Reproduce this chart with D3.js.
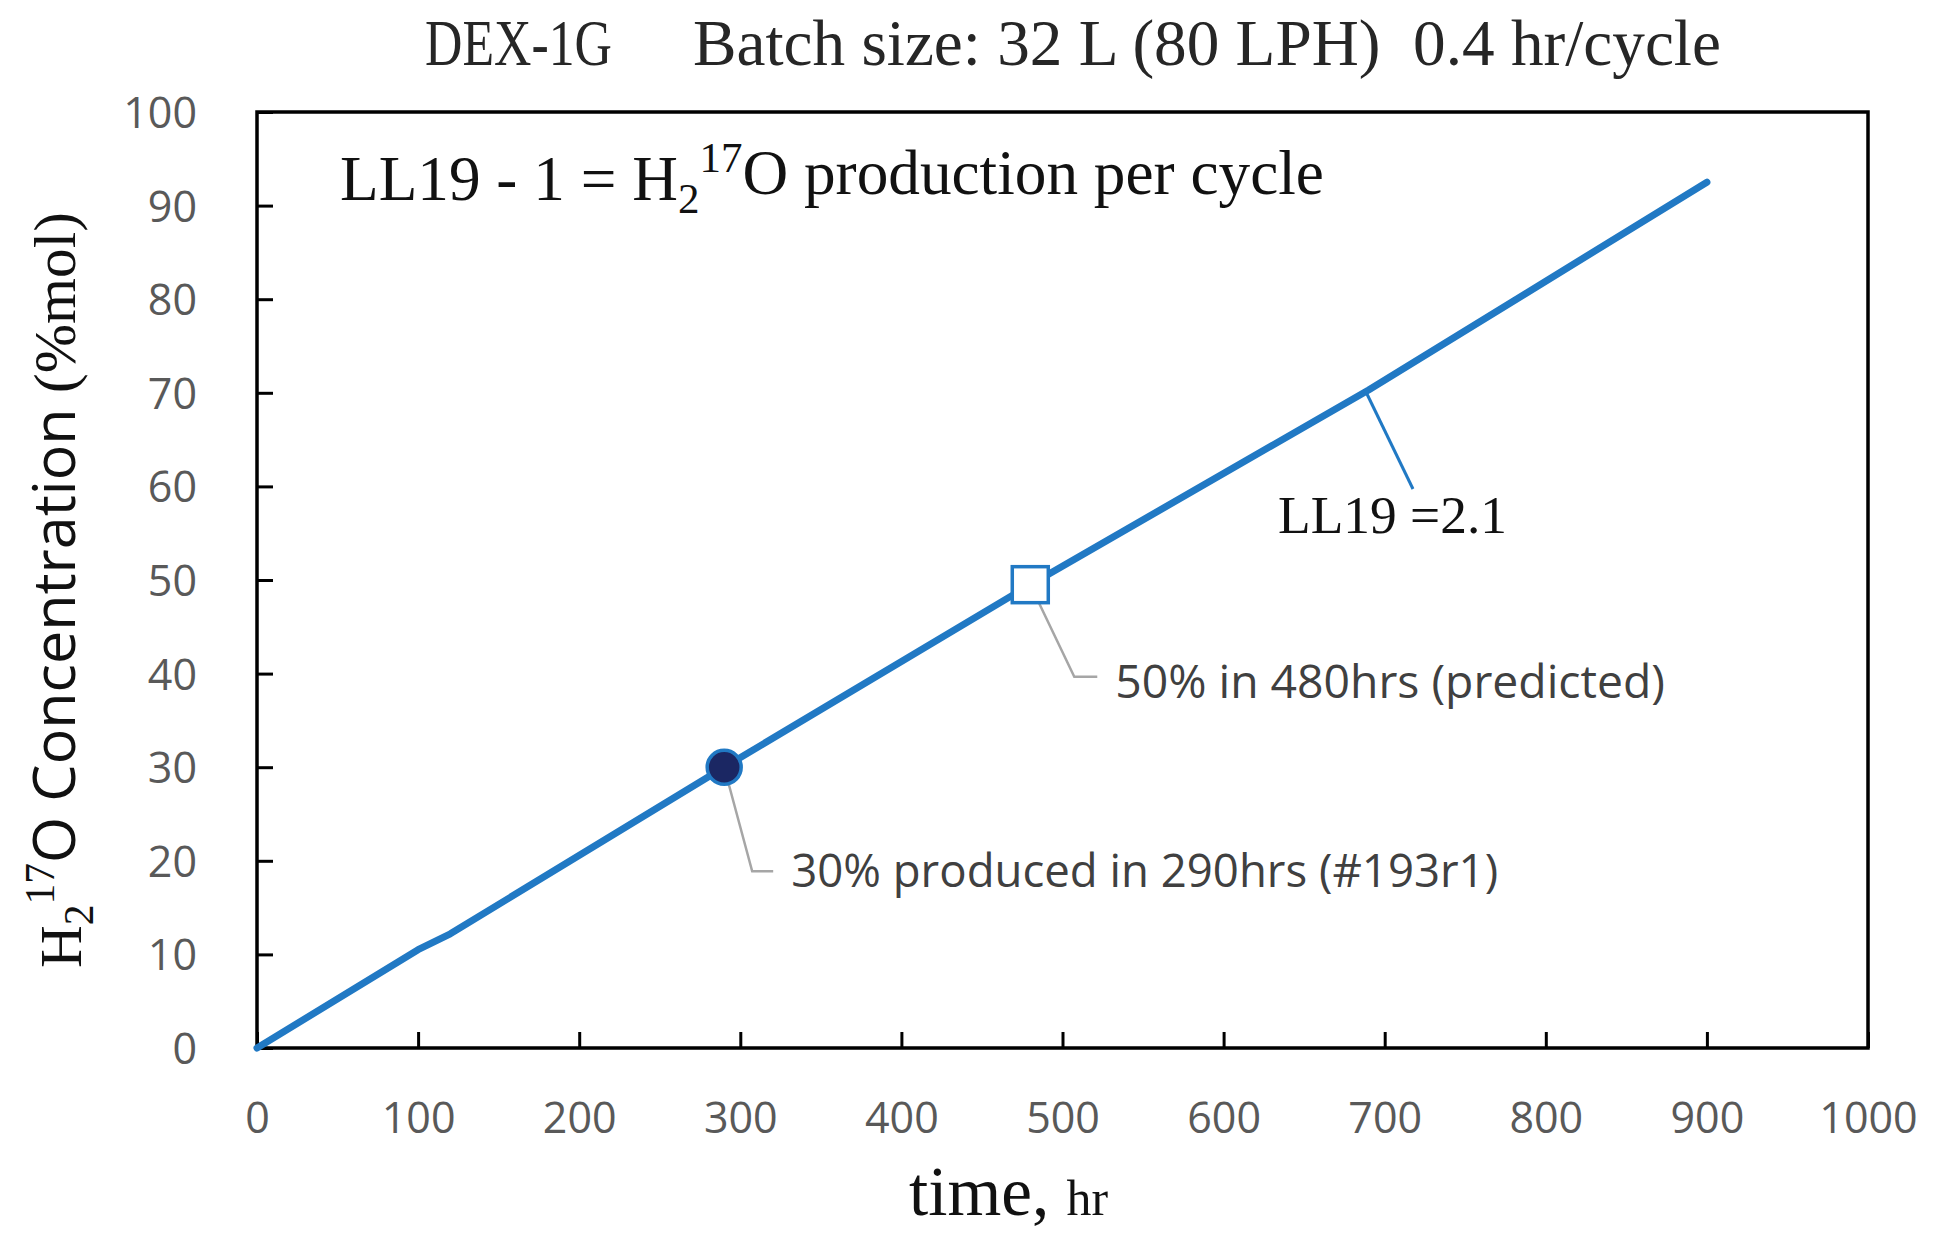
<!DOCTYPE html>
<html>
<head>
<meta charset="utf-8">
<script src="https://cdn.jsdelivr.net/npm/d3@7"></script>
<style>
  body { margin: 0; background: #fff; }
  svg { display: block; }
</style>
</head>
<body>
<div id="chart"></div>
<script>
const width = 1958;
const height = 1249;
const margin = {top: 112, right: 90, bottom: 201, left: 257};

// line data: time (hr) vs H2-17O concentration (%mol)
const hours = [0, 100, 120, 290, 480, 690, 900];
const conc = [0, 10.5, 12.2, 30, 49.5, 70.3, 92.5];

// marked points
const measured = [290, 30];
const predicted = [480, 49.5];

const xTicks = [0, 100, 200, 300, 400, 500, 600, 700, 800, 900, 1000];
const yTicks = [0, 10, 20, 30, 40, 50, 60, 70, 80, 90, 100];

const blue = "#2179c4";
const serif = "'Liberation Serif', 'DejaVu Serif', serif";
const sans = "'Open Sans', 'Noto Sans', sans-serif";

const x = d3.scaleLinear().domain([0, 1000]).range([margin.left, width - margin.right]);
const y = d3.scaleLinear().domain([0, 100]).range([height - margin.bottom, margin.top]);

const svg = d3.select('#chart').append('svg')
    .attr('width', width)
    .attr('height', height);

// shrink/grow a text so it spans a given width
function fit(sel, w) {
    const l = sel.node().getComputedTextLength();
    const fs = parseFloat(sel.attr('font-size'));
    sel.attr('font-size', fs * w / l);
}

// axes with inward ticks
const xAxis = svg.append('g')
    .attr('transform', 'translate(0,' + y(0) + ')')
    .call(d3.axisBottom(x).tickValues(xTicks).tickFormat(d3.format('d'))
        .tickSizeInner(-16).tickSizeOuter(0).tickPadding(54));
const yAxis = svg.append('g')
    .attr('transform', 'translate(' + x(0) + ',0)')
    .call(d3.axisLeft(y).tickValues(yTicks).tickFormat(d3.format('d'))
        .tickSizeInner(-16).tickSizeOuter(0).tickPadding(60));

[xAxis, yAxis].forEach(function (a) {
    a.select('.domain').remove();
    a.selectAll('line').attr('stroke', '#000').attr('stroke-width', 3);
    a.selectAll('text')
        .attr('fill', '#595959')
        .style('font-family', sans)
        .style('font-size', '43px');
});
yAxis.selectAll('text').attr('dy', '0.36em');

// plot frame
svg.append('rect')
    .attr('x', x(0))
    .attr('y', y(100))
    .attr('width', x(1000) - x(0))
    .attr('height', y(0) - y(100))
    .attr('fill', 'none')
    .attr('stroke', '#000')
    .attr('stroke-width', 3.5);

// main line
const line = d3.line()
    .x((d, i) => x(hours[i]))
    .y(d => y(d));

svg.append('path')
    .datum(conc)
    .attr('d', line)
    .attr('fill', 'none')
    .attr('stroke', blue)
    .attr('stroke-width', 7)
    .attr('stroke-linecap', 'round')
    .attr('stroke-linejoin', 'round');

// leader lines
const mx = x(measured[0]), my = y(measured[1]);
const px = x(predicted[0]), py = y(predicted[1]);

svg.append('path')
    .attr('d', 'M' + mx + ',' + my + 'L' + (mx + 28) + ',' + (my + 104) + 'h21')
    .attr('fill', 'none')
    .attr('stroke', '#a6a6a6')
    .attr('stroke-width', 2.5);

svg.append('path')
    .attr('d', 'M' + px + ',' + py + 'L' + (px + 44) + ',' + (py + 92) + 'h23')
    .attr('fill', 'none')
    .attr('stroke', '#a6a6a6')
    .attr('stroke-width', 2.5);

// markers
svg.append('circle')
    .attr('cx', mx)
    .attr('cy', my)
    .attr('r', 17)
    .attr('fill', '#1b2763')
    .attr('stroke', blue)
    .attr('stroke-width', 3.5);

svg.append('rect')
    .attr('x', px - 18)
    .attr('y', py - 18)
    .attr('width', 36)
    .attr('height', 36)
    .attr('fill', '#fff')
    .attr('stroke', blue)
    .attr('stroke-width', 3.5);

// gray annotations
const a1 = svg.append('text')
    .attr('x', mx + 67)
    .attr('y', my + 120)
    .attr('fill', '#404040')
    .attr('font-family', sans)
    .attr('font-size', 40)
    .text('30% produced in 290hrs (#193r1)');
fit(a1, 707);

const a2 = svg.append('text')
    .attr('x', px + 85)
    .attr('y', py + 113)
    .attr('fill', '#404040')
    .attr('font-family', sans)
    .attr('font-size', 40)
    .text('50% in 480hrs (predicted)');
fit(a2, 550);

// LL19 label with its blue leader
svg.append('line')
    .attr('x1', x(689))
    .attr('y1', y(70.3) + 4)
    .attr('x2', x(689) + 46)
    .attr('y2', y(70.3) + 99)
    .attr('stroke', blue)
    .attr('stroke-width', 3);

const ll = svg.append('text')
    .attr('x', 1278)
    .attr('y', 533)
    .attr('fill', '#111')
    .attr('font-family', serif)
    .attr('font-size', 50)
    .text('LL19 =2.1');
fit(ll, 229);

// text in the top left of the plot
const note = svg.append('text')
    .attr('x', 340)
    .attr('y', 200)
    .attr('fill', '#111')
    .attr('font-family', serif)
    .attr('font-size', 52);
note.append('tspan').text('LL19 - 1 = H');
note.append('tspan').attr('font-size', '0.68em').attr('dy', '0.3em').text('2');
note.append('tspan').attr('font-size', '0.68em').attr('dy', '-0.95em').text('17');
note.append('tspan').attr('dy', '0.35em').text('O production per cycle');
fit(note, 984);

// title
const t2 = svg.append('text')
    .attr('x', 693)
    .attr('y', 65)
    .attr('fill', '#262626')
    .attr('font-family', serif)
    .attr('font-size', 46)
    .attr('xml:space', 'preserve')
    .text('Batch size: 32 L (80 LPH)  0.4 hr/cycle');
fit(t2, 1028);

svg.append('text')
    .attr('x', 425)
    .attr('y', 65)
    .attr('fill', '#262626')
    .attr('font-family', serif)
    .attr('font-size', t2.attr('font-size'))
    .attr('textLength', 187)
    .attr('lengthAdjust', 'spacingAndGlyphs')
    .text('DEX-1G');

// x axis title
const xt = svg.append('text')
    .attr('x', 909)
    .attr('y', 1215)
    .attr('fill', '#111')
    .attr('font-family', serif)
    .attr('font-size', 52);
xt.append('tspan').text('time, ');
xt.append('tspan').attr('font-size', '0.72em').text('hr');
fit(xt, 199);

// y axis title
const yt = svg.append('text')
    .attr('transform', 'translate(81,968) rotate(-90)')
    .attr('fill', '#111')
    .attr('font-family', sans)
    .attr('font-size', 50);
yt.append('tspan').attr('font-family', serif).text('H');
yt.append('tspan').attr('font-family', serif).attr('font-size', '0.7em').attr('dy', '0.3em').text('2');
yt.append('tspan').attr('font-family', serif).attr('font-size', '0.7em').attr('dy', '-0.95em').text('17');
yt.append('tspan').attr('dy', '0.35em').text('O Concentration ');
yt.append('tspan').attr('font-family', serif).text('(%mol)');
fit(yt, 756);
</script>
</body>
</html>
